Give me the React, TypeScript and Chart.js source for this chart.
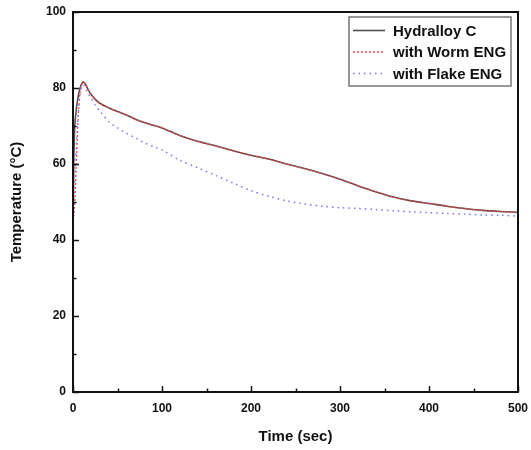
import React, { useEffect, useRef } from 'react';
import { Chart, registerables } from 'chart.js';

Chart.register(...registerables);

// Time (sec)
const times = [0, 1, 2, 4, 6, 8, 10, 12, 14, 17, 20, 25, 30, 40, 50, 60, 70, 80, 90, 100, 120, 140, 160, 180, 200, 220, 240, 260, 280, 300, 320, 340, 360, 380, 400, 420, 440, 460, 480, 500];
// Temperature (°C)
const hydralloy = [46, 62, 70, 75, 78, 80, 81.2, 81.6, 81, 79.6, 78.4, 77, 76, 74.8, 73.8, 72.9, 71.8, 70.9, 70.2, 69.5, 67.5, 66.0, 64.8, 63.5, 62.3, 61.3, 60.0, 58.8, 57.5, 56.0, 54.3, 52.7, 51.3, 50.3, 49.6, 48.9, 48.3, 47.8, 47.5, 47.3];
const worm = [44, 47, 50, 62, 73, 79, 81, 81.5, 81, 79.6, 78.4, 77, 76, 74.8, 73.8, 72.9, 71.8, 70.9, 70.2, 69.5, 67.5, 66.0, 64.8, 63.5, 62.3, 61.3, 60.0, 58.8, 57.5, 56.0, 54.3, 52.7, 51.3, 50.3, 49.6, 48.9, 48.3, 47.8, 47.5, 47.3];
const flake = [45, 50, 55, 66, 74, 78.5, 80.5, 80.8, 79.8, 78.5, 77.5, 75.5, 74, 71.2, 69.5, 68.1, 66.9, 65.6, 64.6, 63.7, 61.0, 59.0, 57.0, 55.0, 53.0, 51.5, 50.3, 49.5, 48.9, 48.5, 48.3, 48.0, 47.7, 47.4, 47.2, 47.0, 46.8, 46.6, 46.5, 46.3];

const seriesLabels = ['Hydralloy C', 'with Worm ENG', 'with Flake ENG'];
const xMajorStep = 100;
const xMinorStep = 50;
const yMajorStep = 20;
const yMinorStep = 10;
const xRange = [0, 500];
const yRange = [0, 100];

const FONT = '"Liberation Sans", Arial, sans-serif';

const framePlugin = {
  id: 'frameTicksLegend',
  afterDraw(chart: any) {
    const { ctx, chartArea: a, scales } = chart;
    const x = scales.x;
    const y = scales.y;
    ctx.save();
    // inward ticks
    ctx.strokeStyle = '#111';
    ctx.lineWidth = 1.5;
    for (let v = xRange[0]; v <= xRange[1]; v += xMinorStep) {
      const px = Math.round(x.getPixelForValue(v)) + 0.5;
      const len = v % xMajorStep === 0 ? 6 : 3.5;
      ctx.beginPath();
      ctx.moveTo(px, a.bottom);
      ctx.lineTo(px, a.bottom - len);
      ctx.stroke();
    }
    for (let v = yRange[0]; v <= yRange[1]; v += yMinorStep) {
      const py = Math.round(y.getPixelForValue(v)) + 0.5;
      const len = v % yMajorStep === 0 ? 6 : 3.5;
      ctx.beginPath();
      ctx.moveTo(a.left, py);
      ctx.lineTo(a.left + len, py);
      ctx.stroke();
    }
    // frame
    ctx.lineWidth = 2;
    ctx.strokeRect(a.left, a.top, a.right - a.left, a.bottom - a.top);

    // legend
    const lx = a.right - 169;
    const ly = a.top + 5;
    const lw = 162;
    const lh = 69;
    ctx.fillStyle = '#fff';
    ctx.fillRect(lx, ly, lw, lh);
    ctx.strokeStyle = '#777';
    ctx.lineWidth = 1.5;
    ctx.strokeRect(lx, ly, lw, lh);
    ctx.font = 'bold 15px ' + FONT;
    ctx.textBaseline = 'middle';
    ctx.textAlign = 'left';
    chart.data.datasets.forEach((ds: any, i: number) => {
      const cy = ly + 13.5 + i * 21.5;
      ctx.save();
      ctx.strokeStyle = ds.borderColor;
      ctx.lineWidth = ds.borderWidth;
      ctx.setLineDash(ds.borderDash || []);
      ctx.beginPath();
      ctx.moveTo(lx + 4, cy);
      ctx.lineTo(lx + 36, cy);
      ctx.stroke();
      ctx.restore();
      ctx.fillStyle = '#111';
      ctx.fillText(ds.label, lx + 44, cy + 1);
    });
    ctx.restore();
  },
};

export default function App() {
  const ref = useRef<HTMLCanvasElement | null>(null);
  useEffect(() => {
    if (!ref.current) return;
    const mk = (vals: number[]) => times.map((t, i) => ({ x: t, y: vals[i] }));
    const chart = new Chart(ref.current, {
      type: 'line',
      data: {
        datasets: [
          { label: seriesLabels[0], data: mk(hydralloy), borderColor: '#505050', borderWidth: 1.6, borderDash: [], pointRadius: 0, tension: 0.3, order: 2 },
          { label: seriesLabels[1], data: mk(worm), borderColor: '#ff3c3c', borderWidth: 1.3, borderDash: [2, 2], pointRadius: 0, tension: 0.3, order: 1 },
          { label: seriesLabels[2], data: mk(flake), borderColor: '#7575ff', borderWidth: 1.5, borderDash: [1.5, 4], pointRadius: 0, tension: 0.3, order: 0 },
        ],
      },
      options: {
        responsive: false,
        animation: false,
        layout: { padding: 0 },
        plugins: { legend: { display: false }, tooltip: { enabled: false } },
        scales: {
          x: {
            type: 'linear',
            min: xRange[0],
            max: xRange[1],
            grid: { display: false, drawTicks: false },
            border: { display: false },
            ticks: { stepSize: xMajorStep, padding: 9, color: '#111', font: { family: FONT, size: 12, weight: 'bold' }, maxRotation: 0 },
            title: { display: true, text: 'Time (sec)', color: '#111', font: { family: FONT, size: 15, weight: 'bold' }, padding: { top: 0, bottom: 4 } },
            afterFit: (s: any) => { s.height = 58; s.paddingRight = 13; s.paddingLeft = 0; },
          },
          y: {
            min: yRange[0],
            max: yRange[1],
            grid: { display: false, drawTicks: false },
            border: { display: false },
            ticks: { stepSize: yMajorStep, padding: 7, color: '#111', font: { family: FONT, size: 12, weight: 'bold' } },
            title: { display: true, text: 'Temperature (°C)', color: '#111', font: { family: FONT, size: 15, weight: 'bold' }, padding: { top: 8, bottom: 0 } },
            afterFit: (s: any) => { s.width = 73; s.paddingTop = 12; s.paddingBottom = 0; },
          },
        },
      } as any,
      plugins: [framePlugin],
    });
    return () => chart.destroy();
  }, []);
  return (
    <div style={{ position: 'absolute', left: 0, top: 0, width: 531, height: 450, background: '#fff' }}>
      <canvas ref={ref} width={531} height={450} />
    </div>
  );
}
